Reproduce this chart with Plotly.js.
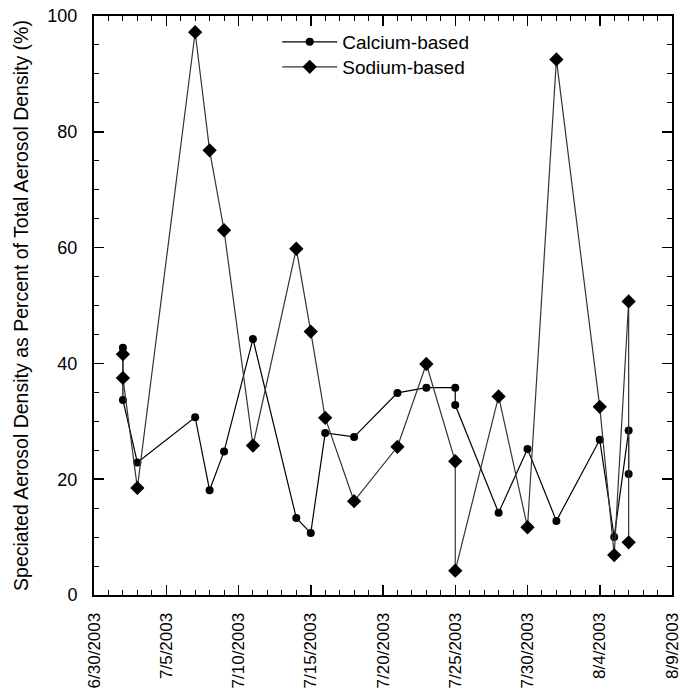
<!DOCTYPE html>
<html>
<head>
<meta charset="utf-8">
<script src="https://cdn.plot.ly/plotly-3.0.1.min.js"></script>
<style>html,body{margin:0;padding:0;background:#fff;}#chart{width:681px;height:693px;}</style>
</head>
<body>
<div id="chart"></div>
<script>
const calciumDates = ["2003-07-02","2003-07-02","2003-07-03","2003-07-07","2003-07-08","2003-07-09","2003-07-11","2003-07-14","2003-07-15","2003-07-16","2003-07-18","2003-07-21","2003-07-23","2003-07-25","2003-07-25","2003-07-28","2003-07-30","2003-08-01","2003-08-04","2003-08-05","2003-08-06","2003-08-06"];
const calciumValues = [42.7,33.7,22.9,30.7,18.1,24.8,44.2,13.3,10.7,28.0,27.3,34.9,35.8,35.8,32.8,14.2,25.2,12.8,26.8,10.0,28.4,20.9];
const sodiumDates = ["2003-07-02","2003-07-02","2003-07-03","2003-07-07","2003-07-08","2003-07-09","2003-07-11","2003-07-14","2003-07-15","2003-07-16","2003-07-18","2003-07-21","2003-07-23","2003-07-25","2003-07-25","2003-07-28","2003-07-30","2003-08-01","2003-08-04","2003-08-05","2003-08-06","2003-08-06"];
const sodiumValues = [41.6,37.5,18.5,97.2,76.8,63.0,25.8,59.8,45.5,30.6,16.2,25.6,39.9,23.1,4.2,34.3,11.7,92.5,32.5,6.9,50.7,9.1];
const seriesNames = ["Calcium-based","Sodium-based"];
const yTitle = "Speciated Aerosol Density as Percent of Total Aerosol Density (%)";

const fam = "Liberation Sans, Arial, sans-serif";
const tickFont = {family: fam, size: 18, color: "#000"};
const xTickFont = {family: fam, size: 17, color: "#000"};
const legendFont = {family: fam, size: 19, color: "#000"};
const titleFont = {family: fam, size: 19.5, color: "#000"};
const traces = [
  {x: calciumDates, y: calciumValues, name: seriesNames[0], type: "scatter", mode: "lines+markers",
   line: {color: "#000", width: 1.2}, marker: {symbol: "circle", size: 8, color: "#000"}, legend: "legend"},
  {x: sodiumDates, y: sodiumValues, name: seriesNames[1], type: "scatter", mode: "lines+markers",
   line: {color: "#333", width: 1.2}, marker: {symbol: "diamond", size: 11, color: "#000"}, legend: "legend2"}
];
const legendBase = {x: 0.317, xanchor: "left", yanchor: "top", bgcolor: "rgba(0,0,0,0)",
                    font: legendFont, itemwidth: 55};
const layout = {
  width: 681, height: 693,
  margin: {l: 94, r: 9, t: 16, b: 98},
  paper_bgcolor: "#fff", plot_bgcolor: "#fff",
  font: tickFont,
  showlegend: true,
  legend: Object.assign({}, legendBase, {y: 0.988}),
  legend2: Object.assign({}, legendBase, {y: 0.9447}),
  xaxis: {
    type: "date", range: ["2003-06-30", "2003-08-09"],
    tick0: "2003-06-30", dtick: 5 * 86400000, tickformat: "%-m/%-d/%Y", tickangle: -90,
    ticks: "inside", ticklen: 10, tickwidth: 1.5, tickcolor: "#000",
    minor: {dtick: 86400000, ticks: "inside", ticklen: 5, tickwidth: 1, tickcolor: "#000"},
    showline: true, linecolor: "#000", linewidth: 2, mirror: "ticks",
    showgrid: false, zeroline: false, ticklabelstandoff: 9, tickfont: xTickFont,
    ticklabeloverflow: "allow"
  },
  yaxis: {
    range: [0, 100], dtick: 20, tick0: 0,
    ticks: "inside", ticklen: 10, tickwidth: 1.5, tickcolor: "#000",
    minor: {dtick: 5, ticks: "inside", ticklen: 5, tickwidth: 1, tickcolor: "#000"},
    showline: true, linecolor: "#000", linewidth: 2, mirror: "ticks",
    showgrid: false, zeroline: false, ticklabelstandoff: 11, tickfont: tickFont,
    title: {text: yTitle, font: titleFont, standoff: 14}
  }
};
Plotly.newPlot("chart", traces, layout, {displayModeBar: false, staticPlot: true});
</script>
</body>
</html>
